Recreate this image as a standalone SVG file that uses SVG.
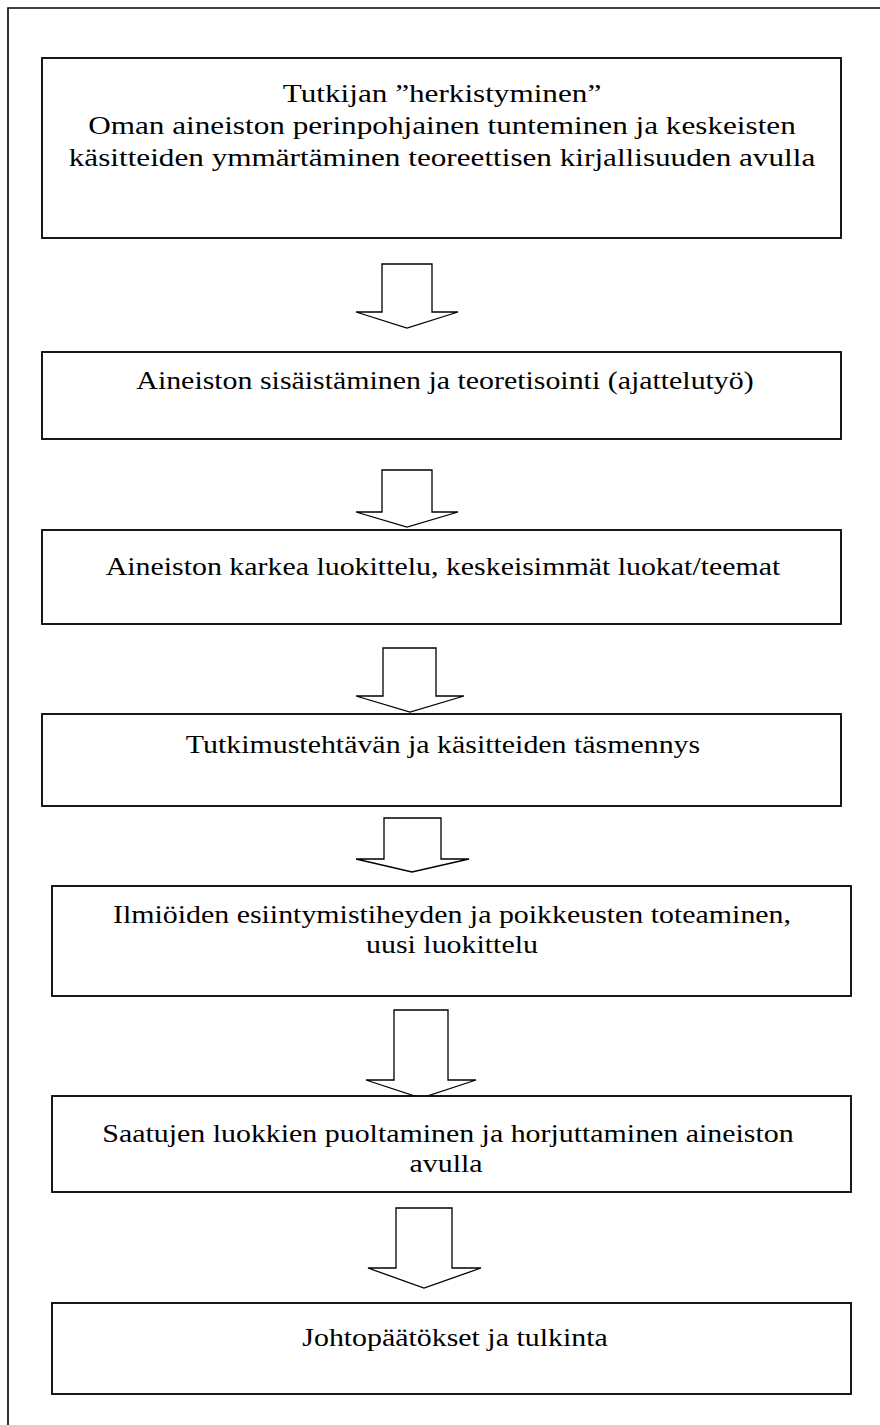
<svg xmlns="http://www.w3.org/2000/svg" width="880" height="1425" viewBox="0 0 880 1425">
  <style>
    .frame { fill: none; stroke: #000; stroke-width: 1.6; }
    .box { fill: #fff; stroke: #000; stroke-width: 1.8; }
    .arrow { fill: #fff; stroke: #000; stroke-width: 1.3; stroke-linejoin: miter; }
    .lbl { font-family: "Liberation Serif", "Times New Roman", serif; font-size: 26px; fill: #000; text-anchor: middle; }
  </style>
  <rect width="880" height="1425" fill="#fff"/>
  <!-- page frame -->
  <path class="frame" d="M8,1425 V8 H880"/>

  <g id="connectors">
    <polygon class="arrow" points="382,264 432,264 432,312 458,312 407,328 356,312 382,312"/>
    <polygon class="arrow" points="382,470 432,470 432,512 458,512 407,527 356,512 382,512"/>
    <polygon class="arrow" points="383,648 436,648 436,696 464,696 410,712 356,696 383,696"/>
    <polygon class="arrow" points="384,818 441,818 441,859 469,859 412,872 356,859 384,859"/>
    <polygon class="arrow" points="394,1010 448,1010 448,1080 476,1080 421,1098 366,1080 394,1080"/>
    <polygon class="arrow" points="396,1208 452,1208 452,1268 481,1268 424,1288 368,1268 396,1268"/>
  </g>

  <!-- labels are widened slightly to get Garamond-like proportions -->
  <g id="n1">
    <rect class="box" x="42" y="58" width="799" height="180"/>
    <text class="lbl" transform="translate(442,102) scale(1.2,1)">Tutkijan ”herkistyminen”</text>
    <text class="lbl" transform="translate(442,134) scale(1.2,1)">Oman aineiston perinpohjainen tunteminen ja keskeisten</text>
    <text class="lbl" transform="translate(442,166) scale(1.2,1)">käsitteiden ymmärtäminen teoreettisen kirjallisuuden avulla</text>
  </g>
  <g id="n2">
    <rect class="box" x="42" y="352" width="799" height="87"/>
    <text class="lbl" transform="translate(445,389) scale(1.15,1)">Aineiston sisäistäminen ja teoretisointi (ajattelutyö)</text>
  </g>
  <g id="n3">
    <rect class="box" x="42" y="530" width="799" height="94"/>
    <text class="lbl" transform="translate(443,575) scale(1.15,1)">Aineiston karkea luokittelu, keskeisimmät luokat/teemat</text>
  </g>
  <g id="n4">
    <rect class="box" x="42" y="714" width="799" height="92"/>
    <text class="lbl" transform="translate(443,753) scale(1.15,1)">Tutkimustehtävän ja käsitteiden täsmennys</text>
  </g>
  <g id="n5">
    <rect class="box" x="52" y="886" width="799" height="110"/>
    <text class="lbl" transform="translate(452,923) scale(1.15,1)">Ilmiöiden esiintymistiheyden ja poikkeusten toteaminen,</text>
    <text class="lbl" transform="translate(452,953) scale(1.15,1)">uusi luokittelu</text>
  </g>
  <g id="n6">
    <rect class="box" x="52" y="1096" width="799" height="96"/>
    <text class="lbl" transform="translate(448,1142) scale(1.15,1)">Saatujen luokkien puoltaminen ja horjuttaminen aineiston</text>
    <text class="lbl" transform="translate(446,1172) scale(1.15,1)">avulla</text>
  </g>
  <g id="n7">
    <rect class="box" x="52" y="1303" width="799" height="91"/>
    <text class="lbl" transform="translate(455,1346) scale(1.15,1)">Johtopäätökset ja tulkinta</text>
  </g>
</svg>
